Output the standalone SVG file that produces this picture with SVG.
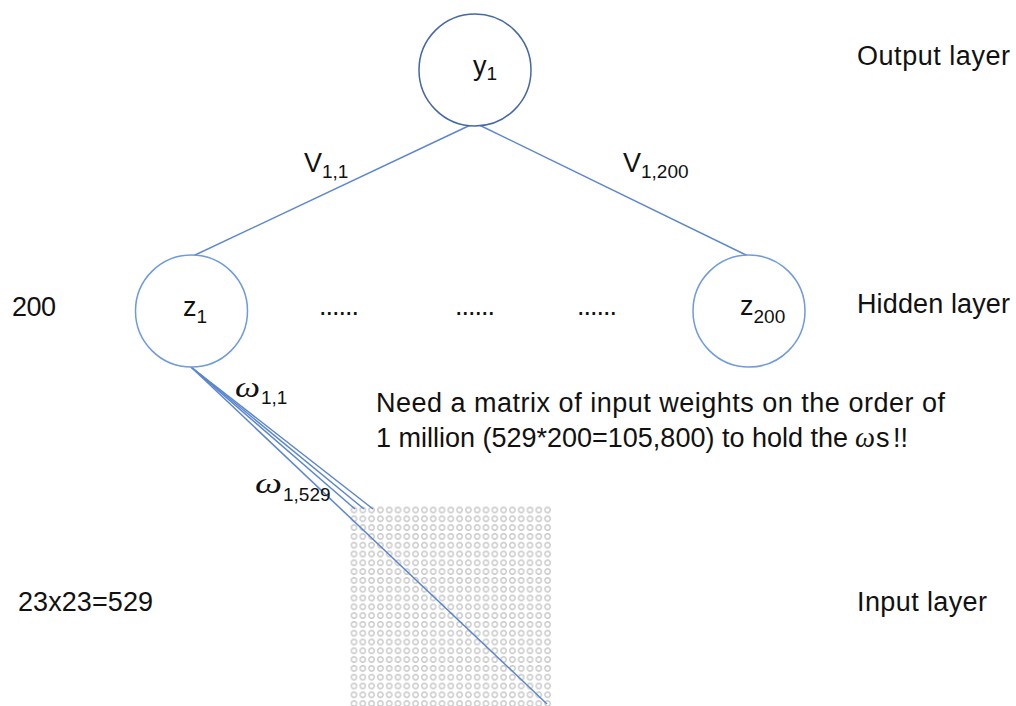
<svg xmlns="http://www.w3.org/2000/svg" width="1016" height="706" viewBox="0 0 1016 706">
<defs>
<style>
.t{font-family:"Liberation Sans",Arial,sans-serif;font-size:27px;fill:#111}
.sub{font-size:19px}
.w{font-family:"Liberation Serif","DejaVu Serif",serif;font-style:italic;font-size:30px;fill:#111}
.node{fill:#fff;stroke-width:1.5}
.c{stroke:#5b86cf;stroke-width:1.5;fill:none}
</style>
<pattern id="dot" patternUnits="userSpaceOnUse" x="349.6" y="505.6" width="8.8" height="8.8">
<circle cx="4.4" cy="4.4" r="2.7" fill="none" stroke="#c6c6c6" stroke-width="1.3"/>
</pattern>
</defs>
<rect width="1016" height="706" fill="#fff"/>
<g id="input-grid">
<rect x="349.6" y="505.6" width="202.4" height="202.4" fill="url(#dot)"/>
</g>
<g id="connectors">
<line class="c" x1="193" y1="256" x2="479" y2="121"/>
<line class="c" x1="748" y1="256" x2="471" y2="121"/>
<line class="c" x1="191" y1="367" x2="355" y2="509"/>
<line class="c" x1="191" y1="367" x2="364" y2="509"/>
<line class="c" x1="191" y1="367" x2="373" y2="509"/>
<line class="c" x1="191" y1="367" x2="547" y2="704"/>
</g>
<g id="output-y1">
<circle class="node" cx="475" cy="70" r="56" stroke="#4467a6"/>
<text class="t" x="473" y="75">y<tspan class="sub" dy="5">1</tspan></text>
</g>
<g id="hidden-z1">
<circle class="node" cx="191.5" cy="311" r="56" stroke="#6e9ae0"/>
<text class="t" x="183" y="316">z<tspan class="sub" dy="7">1</tspan></text>
</g>
<g id="hidden-z200">
<circle class="node" cx="749" cy="311" r="56" stroke="#6e9ae0"/>
<text class="t" x="740" y="315">z<tspan class="sub" dy="8">200</tspan></text>
</g>
<g id="labels">
<text class="t" x="857" y="65" textLength="153">Output layer</text>
<text class="t" x="857" y="313" textLength="153">Hidden layer</text>
<text class="t" x="857" y="611" textLength="130">Input layer</text>
<text class="t" x="12" y="316" textLength="44">200</text>
<text class="t" x="18" y="611" textLength="135">23x23=529</text>
<text class="t" x="319" y="315" textLength="40">......</text>
<text class="t" x="455" y="315" textLength="40">......</text>
<text class="t" x="577" y="315" textLength="40">......</text>
<text class="t" x="304" y="172">V<tspan class="sub" dy="6">1,1</tspan></text>
<text class="t" x="623" y="172">V<tspan class="sub" dy="6">1,200</tspan></text>
<text class="w" x="235" y="397" textLength="25" lengthAdjust="spacingAndGlyphs">ω</text>
<text class="t sub" x="261" y="404">1,1</text>
<text class="w" x="255" y="493" textLength="27" lengthAdjust="spacingAndGlyphs">ω</text>
<text class="t sub" x="283" y="501">1,529</text>
<text class="t" x="376" y="412" textLength="569">Need a matrix of input weights on the order of</text>
<text class="t" x="376" y="447" textLength="472">1 million (529*200=105,800) to hold the</text>
<text class="w" x="855" y="447" textLength="20" lengthAdjust="spacingAndGlyphs">ω</text>
<text class="t" x="876" y="447" font-size="19">s</text>
<text class="t" x="893" y="447">!!</text>
</g>
</svg>
